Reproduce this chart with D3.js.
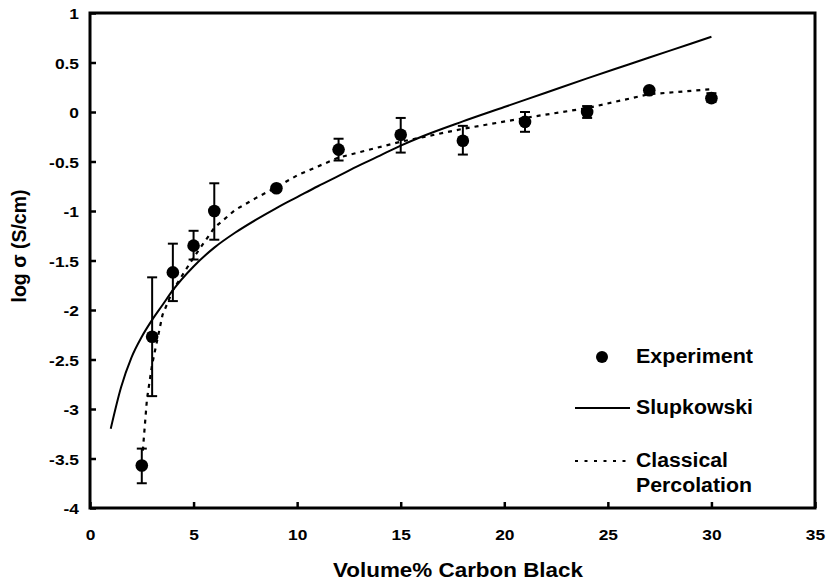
<!DOCTYPE html>
<html>
<head>
<meta charset="utf-8">
<script src="https://cdn.jsdelivr.net/npm/d3@7/dist/d3.min.js"></script>
<style>
  html, body { margin: 0; padding: 0; background: #fff; }
  svg { display: block; }
  text { font-family: "Liberation Sans", Arial, Helvetica, sans-serif; font-weight: bold; fill: #000; }
</style>
</head>
<body>
<svg id="chart" width="826" height="586"></svg>
<script>
// ---- data ----
const expX    = [2.5, 3, 4, 5, 6, 9, 12, 15, 18, 21, 24, 27, 30];
const expY    = [-3.57, -2.27, -1.62, -1.35, -1.0, -0.77, -0.38, -0.23, -0.29, -0.10, 0.0, 0.22, 0.14];
const expHi   = [-3.40, -1.67, -1.33, -1.20, -0.72, -0.75, -0.27, -0.06, -0.14, 0.0, 0.06, 0.23, 0.19];
const expLo   = [-3.75, -2.87, -1.91, -1.49, -1.29, -0.79, -0.49, -0.41, -0.43, -0.20, -0.06, 0.21, 0.10];

const slupX = [1, 1.5, 2, 2.5, 3, 3.5, 4, 5, 6, 7, 8, 9, 10, 11, 12, 13, 14, 15, 16, 18, 20, 22, 24, 26, 28, 30];
const slupY = [-3.2, -2.78, -2.48, -2.27, -2.1, -1.95, -1.8, -1.56, -1.37, -1.22, -1.09, -0.97, -0.86, -0.75, -0.645, -0.54, -0.44, -0.34, -0.25, -0.095, 0.05, 0.195, 0.34, 0.48, 0.62, 0.76];

const percX = [2.55, 2.75, 3.0, 3.5, 4, 5, 6, 7, 8, 9, 10, 12, 15, 18, 21, 24, 27, 30];
const percY = [-3.42, -2.9, -2.55, -2.05, -1.8, -1.47, -1.17, -0.99, -0.87, -0.76, -0.64, -0.46, -0.30, -0.17, -0.06, 0.04, 0.18, 0.23];

const xTicks = [0, 5, 10, 15, 20, 25, 30, 35];
const yTicks = [1, 0.5, 0, -0.5, -1, -1.5, -2, -2.5, -3, -3.5, -4];

const xTitle = "Volume% Carbon Black";
const yTitle = "log \u03C3 (S/cm)";
const legendLabels = ["Experiment", "Slupkowski", "Classical", "Percolation"];

// ---- layout ----
const L = 90, R = 815, T = 13, B = 508;
const svg = d3.select("#chart");
const x = d3.scaleLinear().domain([0, 35]).range([L, R]);
const y = d3.scaleLinear().domain([-4, 1]).range([B, T]);

// frame
svg.append("rect").attr("x", L).attr("y", T).attr("width", R - L).attr("height", B - T)
  .attr("fill", "none").attr("stroke", "#000").attr("stroke-width", 3);

// axes
const tickFmt = d => String(d);
const xAxis = svg.append("g").attr("transform", `translate(0,${B})`)
  .call(d3.axisBottom(x).tickValues(xTicks).tickSize(-6).tickPadding(0).tickFormat(tickFmt));
const yAxis = svg.append("g").attr("transform", `translate(${L},0)`)
  .call(d3.axisLeft(y).tickValues(yTicks).tickSize(-6).tickPadding(0).tickFormat(tickFmt));
[xAxis, yAxis].forEach(g => {
  g.select(".domain").remove();
  g.selectAll(".tick line").attr("stroke", "#000").attr("stroke-width", 2.5);
  g.selectAll(".tick text").attr("font-size", 15.5).attr("font-family", null).attr("fill", "#000");
});
xAxis.selectAll(".tick text").attr("y", null).attr("dy", null)
  .attr("transform", "translate(0,32) scale(1.12,1)").attr("text-anchor", "middle");
yAxis.selectAll(".tick text").attr("x", null).attr("dy", null)
  .attr("transform", "translate(-11,5.5) scale(1.12,1)").attr("text-anchor", "end");

// titles
svg.append("text").attr("x", 458).attr("y", 577).attr("text-anchor", "middle")
  .attr("font-size", 19.5).attr("textLength", 250).attr("lengthAdjust", "spacingAndGlyphs").text(xTitle);
svg.append("text").attr("transform", "translate(26,246) rotate(-90)").attr("text-anchor", "middle")
  .attr("font-size", 19.5).text(yTitle);

// curves
const line = d3.line().x(d => x(d[0])).y(d => y(d[1]));
svg.append("path").datum(slupX.map((v, i) => [v, slupY[i]]))
  .attr("d", line.curve(d3.curveMonotoneX)).attr("fill", "none").attr("stroke", "#000").attr("stroke-width", 2);
svg.append("path").datum(percX.map((v, i) => [v, percY[i]]))
  .attr("d", d3.line().x(d => x(d[0])).y(d => y(d[1]))).attr("fill", "none").attr("stroke", "#000")
  .attr("stroke-width", 2.2).attr("stroke-dasharray", "4,5");

// error bars
const eb = svg.append("g").attr("stroke", "#000").attr("stroke-width", 2);
expX.forEach((v, i) => {
  const cx = x(v);
  eb.append("line").attr("x1", cx).attr("x2", cx).attr("y1", y(expHi[i])).attr("y2", y(expLo[i]));
  eb.append("line").attr("x1", cx - 5).attr("x2", cx + 5).attr("y1", y(expHi[i])).attr("y2", y(expHi[i]));
  eb.append("line").attr("x1", cx - 5).attr("x2", cx + 5).attr("y1", y(expLo[i])).attr("y2", y(expLo[i]));
});
svg.append("g").selectAll("circle").data(expX).join("circle")
  .attr("cx", d => x(d)).attr("cy", (d, i) => y(expY[i])).attr("r", 6.3).attr("fill", "#000");

// legend
const lg = svg.append("g");
lg.append("circle").attr("cx", 602).attr("cy", 357).attr("r", 6).attr("fill", "#000");
lg.append("line").attr("x1", 575).attr("x2", 630).attr("y1", 408).attr("y2", 408)
  .attr("stroke", "#000").attr("stroke-width", 2);
lg.append("line").attr("x1", 575).attr("x2", 630).attr("y1", 461).attr("y2", 461)
  .attr("stroke", "#000").attr("stroke-width", 2).attr("stroke-dasharray", "3,6.5");
const lgPos = [[363, 117], [414, 117], [467, 92], [492, 116]];
legendLabels.forEach((t, i) => {
  lg.append("text").attr("x", 636).attr("y", lgPos[i][0]).attr("font-size", 19.5)
    .attr("textLength", lgPos[i][1]).attr("lengthAdjust", "spacingAndGlyphs").text(t);
});
</script>
</body>
</html>
